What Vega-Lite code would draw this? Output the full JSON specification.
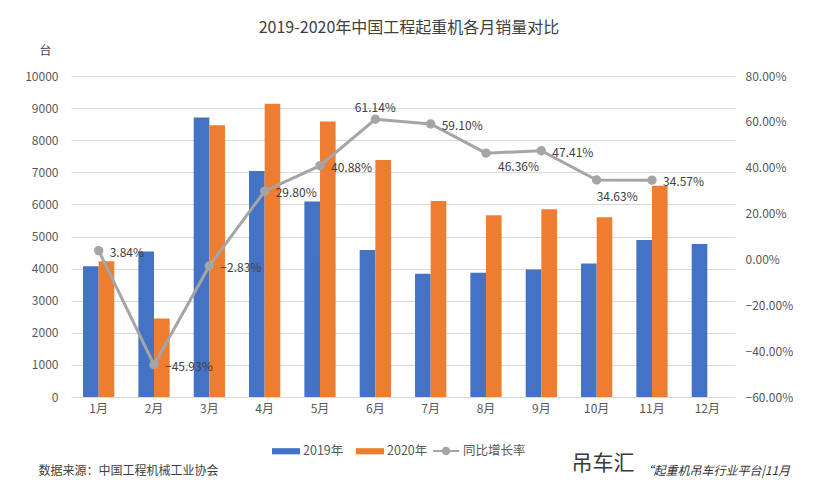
{
  "$schema": "https://vega.github.io/schema/vega-lite/v6.json",
  "width": 664,
  "height": 321,
  "autosize": {"type": "none"},
  "padding": {"left": 71, "top": 76, "right": 85, "bottom": 95},
  "background": "white",
  "config": {
    "font": "Noto Sans CJK SC",
    "view": {"stroke": null},
    "axis": {"labelColor": "#595959", "labelFontSize": 12, "titleColor": "#404040", "titleFontWeight": "normal", "titleFontSize": 12, "domain": false, "ticks": false},
    "legend": {"labelColor": "#595959", "labelFontSize": 12.5}
  },
  "title": {"text": "2019-2020年中国工程起重机各月销量对比", "fontSize": 16, "fontWeight": "normal", "color": "#404040", "anchor": "middle", "offset": 8, "dx": 6},
  "datasets": {
    "bars": [
      {"month": "1月", "series": "2019年", "value": 4075},
      {"month": "2月", "series": "2019年", "value": 4530},
      {"month": "3月", "series": "2019年", "value": 8710},
      {"month": "4月", "series": "2019年", "value": 7040},
      {"month": "5月", "series": "2019年", "value": 6090},
      {"month": "6月", "series": "2019年", "value": 4580},
      {"month": "7月", "series": "2019年", "value": 3840},
      {"month": "8月", "series": "2019年", "value": 3870},
      {"month": "9月", "series": "2019年", "value": 3970},
      {"month": "10月", "series": "2019年", "value": 4160},
      {"month": "11月", "series": "2019年", "value": 4890},
      {"month": "12月", "series": "2019年", "value": 4770},
      {"month": "1月", "series": "2020年", "value": 4231},
      {"month": "2月", "series": "2020年", "value": 2449},
      {"month": "3月", "series": "2020年", "value": 8464},
      {"month": "4月", "series": "2020年", "value": 9138},
      {"month": "5月", "series": "2020年", "value": 8580},
      {"month": "6月", "series": "2020年", "value": 7380},
      {"month": "7月", "series": "2020年", "value": 6109},
      {"month": "8月", "series": "2020年", "value": 5664},
      {"month": "9月", "series": "2020年", "value": 5852},
      {"month": "10月", "series": "2020年", "value": 5600},
      {"month": "11月", "series": "2020年", "value": 6580}
    ],
    "growth": [
      {"month": "1月", "pct": 0.0384},
      {"month": "2月", "pct": -0.4593},
      {"month": "3月", "pct": -0.0283},
      {"month": "4月", "pct": 0.298},
      {"month": "5月", "pct": 0.4088},
      {"month": "6月", "pct": 0.6114},
      {"month": "7月", "pct": 0.591},
      {"month": "8月", "pct": 0.4636},
      {"month": "9月", "pct": 0.4741},
      {"month": "10月", "pct": 0.3463},
      {"month": "11月", "pct": 0.3457}
    ]
  },
  "layer": [
    {
      "data": {"name": "bars"},
      "mark": {"type": "bar"},
      "encoding": {
        "x": {
          "field": "month", "type": "nominal",
          "sort": ["1月","2月","3月","4月","5月","6月","7月","8月","9月","10月","11月","12月"],
          "scale": {"paddingInner": 0.435, "paddingOuter": 0.2175},
          "axis": {"orient": "bottom", "labelAngle": 0, "labelPadding": 6, "grid": false, "title": "数据来源：中国工程机械工业协会", "titleAnchor": "start", "titleAlign": "left", "titleBaseline": "middle", "titleX": -33, "titleY": 73, "titleColor": "#404040"}
        },
        "xOffset": {"field": "series", "type": "nominal", "sort": ["2019年", "2020年"], "scale": {"paddingInner": 0, "paddingOuter": 0}},
        "y": {
          "field": "value", "type": "quantitative",
          "scale": {"domain": [0, 10000]},
          "axis": {"values": [0,1000,2000,3000,4000,5000,6000,7000,8000,9000,10000], "format": "d", "labelPadding": 13, "gridColor": "#D9D9D9", "title": "台", "titleAngle": 0, "titleAlign": "center", "titleBaseline": "middle", "titleX": -26, "titleY": -26}
        },
        "color": {
          "field": "series", "type": "nominal",
          "scale": {"domain": ["2019年", "2020年"], "range": ["#4472C4", "#ED7D31"]},
          "legend": {"orient": "none", "legendX": 201, "legendY": 361, "direction": "horizontal", "title": null, "symbolType": "M-1,-0.22H1V0.22H-1Z", "symbolSize": 784, "symbolStrokeWidth": 0, "labelOffset": 3, "columnPadding": 12}
        }
      }
    },
    {
      "data": {"name": "growth"},
      "encoding": {
        "x": {"field": "month", "type": "nominal", "sort": ["1月","2月","3月","4月","5月","6月","7月","8月","9月","10月","11月","12月"],
          "axis": {"orient": "top", "labels": false, "grid": false, "title": "吊车汇", "titleFontSize": 21, "titleColor": "#3a3a3a", "titleAnchor": "start", "titleAlign": "left", "titleBaseline": "middle", "titleX": 500, "titleY": 387}},
        "y": {
          "field": "pct", "type": "quantitative",
          "scale": {"domain": [-0.6, 0.8]},
          "axis": {"orient": "right", "values": [-0.6,-0.4,-0.2,0,0.2,0.4,0.6,0.8], "format": ".2%", "labelPadding": 10, "grid": false, "title": "“起重机吊车行业平台|11月", "titleFontSize": 12, "titleAngle": 0, "titleAlign": "left", "titleBaseline": "middle", "titleX": -94, "titleY": 394, "titleFontStyle": "italic", "titleColor": "#333333"}
        }
      },
      "layer": [
        {
          "mark": {"type": "line", "strokeWidth": 3, "point": {"filled": true, "size": 55, "color": "#A5A5A5"}},
          "encoding": {
            "stroke": {"datum": "同比增长率", "scale": {"range": ["#A5A5A5"]},
              "legend": {"orient": "none", "legendX": 361, "legendY": 361, "title": null, "symbolType": "M-1,0H-0.25M0.25,0H1M0.25,0A0.25,0.25,0,1,1,-0.25,0A0.25,0.25,0,1,1,0.25,0", "symbolSize": 676, "symbolStrokeWidth": 2, "symbolFillColor": "#A5A5A5", "labelOffset": 3}}
          }
        },
        {
          "transform": [{"filter": {"field": "month", "oneOf": ["1月","2月","3月","4月","5月","7月","9月","11月"]}}],
          "mark": {"type": "text", "align": "left", "baseline": "middle", "dx": 11, "dy": 2, "fontSize": 12, "color": "#404040"},
          "encoding": {"text": {"field": "pct", "type": "quantitative", "format": ".2%"}}
        },
        {
          "transform": [{"filter": {"field": "month", "equal": "6月"}}],
          "mark": {"type": "text", "align": "center", "baseline": "middle", "dy": -11, "fontSize": 12, "color": "#404040"},
          "encoding": {"text": {"field": "pct", "type": "quantitative", "format": ".2%"}}
        },
        {
          "transform": [{"filter": {"field": "month", "equal": "8月"}}],
          "mark": {"type": "text", "align": "left", "baseline": "middle", "dx": 12, "dy": 14, "fontSize": 12, "color": "#404040"},
          "encoding": {"text": {"field": "pct", "type": "quantitative", "format": ".2%"}}
        },
        {
          "transform": [{"filter": {"field": "month", "equal": "10月"}}],
          "mark": {"type": "text", "align": "left", "baseline": "middle", "dx": 0, "dy": 17, "fontSize": 12, "color": "#404040"},
          "encoding": {"text": {"field": "pct", "type": "quantitative", "format": ".2%"}}
        }
      ]
    }
  ],
  "resolve": {"scale": {"y": "independent"}, "axis": {"x": "independent"}}
}
